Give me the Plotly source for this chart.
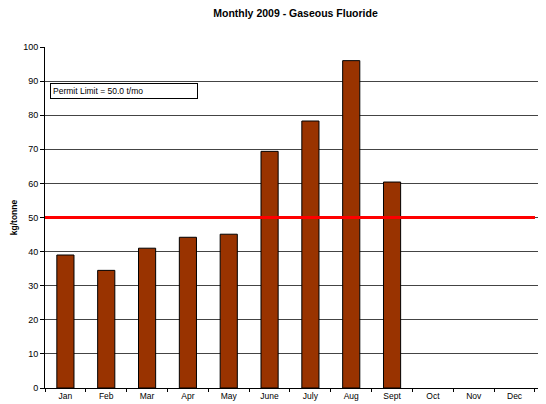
import plotly.graph_objects as go

months = ["Jan", "Feb", "Mar", "Apr", "May", "June", "July", "Aug", "Sept", "Oct", "Nov", "Dec"]
values = [39.0, 34.5, 41.0, 44.2, 45.1, 69.4, 78.3, 96.0, 60.4, None, None, None]
permit_limit = 50.0
y_ticks = list(range(0, 101, 10))

fig = go.Figure()
fig.add_trace(go.Bar(
    x=months, y=values,
    marker=dict(color="#993300", line=dict(color="#000000", width=1)),
    width=0.42, showlegend=False,
))
fig.add_shape(type="line", xref="x", yref="y", x0=-0.5, x1=len(months) - 0.5,
              y0=permit_limit, y1=permit_limit, line=dict(color="#ff0000", width=3), layer="above")
fig.add_annotation(
    xref="paper", yref="paper", x=0.010, y=0.872, xanchor="left", yanchor="middle",
    text="Permit Limit = 50.0 t/mo" + "&nbsp;" * 22, showarrow=False,
    font=dict(size=8.5, color="#000000", family="Liberation Sans, Arial"),
    bordercolor="#000000", borderwidth=1, bgcolor="#ffffff", borderpad=2, align="left",
)

fig.update_layout(
    width=538, height=396,
    margin=dict(l=37, r=0, t=39, b=16),
    paper_bgcolor="#ffffff", plot_bgcolor="#ffffff",
    font=dict(family="Liberation Sans, Arial", size=9, color="#000000"),
    title=dict(text="<b>Monthly 2009 - Gaseous Fluoride</b>", x=0.5, xref="paper", xanchor="center",
               y=0.987, yanchor="middle", font=dict(size=10.5)),
    bargap=0.5,
)
fig.update_xaxes(
    type="category", range=[-0.5, 11.77], tickson="boundaries",
    showline=True, linecolor="#000000", linewidth=1, ticks="outside", ticklen=3,
    tickcolor="#000000", showgrid=False, zeroline=False, tickfont=dict(size=8.5),
)
fig.update_yaxes(
    range=[0, 100], tickmode="array", tickvals=y_ticks,
    showline=True, linecolor="#000000", linewidth=1, ticks="outside", ticklen=4,
    tickcolor="#000000", showgrid=True, gridcolor="#444444", gridwidth=1, zeroline=False,
    title=dict(text="<b>kg/tonne</b>", font=dict(size=8.5), standoff=4),
)
fig.write_html("out.html")
